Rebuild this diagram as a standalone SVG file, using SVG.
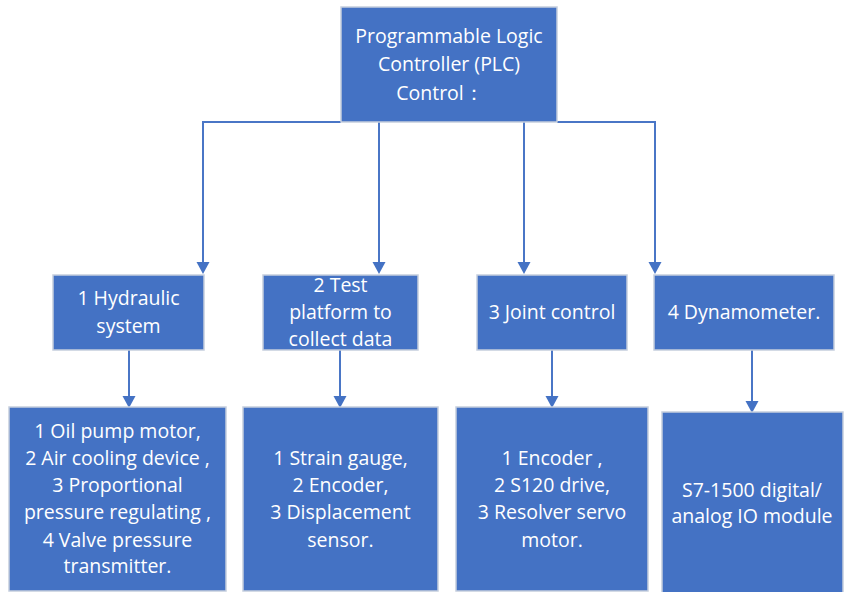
<svg xmlns="http://www.w3.org/2000/svg" width="844" height="592" viewBox="0 0 844 592">
<defs>
<style>
.box{fill:#4472C4;stroke:#C5CEDD;stroke-width:1.5}
.t{fill:#ffffff;font-family:"Open Sans","Noto Sans","Liberation Sans",sans-serif;font-size:19.5px;text-anchor:middle}
.c{fill:none;stroke:#4A76C6;stroke-width:2}
.ah{fill:#4472C4}
</style>
</defs>
<rect width="844" height="592" fill="#ffffff"/>
<g id="connectors">
<path class="c" d="M341,122 H203 V262"/>
<path class="c" d="M379,122 V262"/>
<path class="c" d="M524,122 V262"/>
<path class="c" d="M557,122 H655 V262"/>
<path class="c" d="M129,350 V396"/>
<path class="c" d="M340,350 V396"/>
<path class="c" d="M552,350 V396"/>
<path class="c" d="M752,350 V401"/>
<path class="ah" d="M196.5,262 L209.5,262 L203,274 Z"/>
<path class="ah" d="M372.5,262 L385.5,262 L379,274 Z"/>
<path class="ah" d="M517.5,262 L530.5,262 L524,274 Z"/>
<path class="ah" d="M648.5,262 L661.5,262 L655,274 Z"/>
<path class="ah" d="M122.5,396 L135.5,396 L129,408 Z"/>
<path class="ah" d="M333.5,396 L346.5,396 L340,408 Z"/>
<path class="ah" d="M545.5,396 L558.5,396 L552,408 Z"/>
<path class="ah" d="M745.5,401 L758.5,401 L752,413 Z"/>
</g>
<g id="plc">
<rect class="box" x="341" y="7" width="216" height="115"/>
<text class="t" x="449" y="43">Programmable Logic</text>
<text class="t" x="449" y="71">Controller (PLC)</text>
<text class="t" x="440" y="100">Control：</text>
</g>
<g id="hydraulic">
<rect class="box" x="53" y="275" width="151" height="75"/>
<text class="t" x="128.5" y="305">1 Hydraulic</text>
<text class="t" x="128.5" y="333">system</text>
</g>
<g id="test">
<rect class="box" x="263" y="275" width="155" height="75"/>
<text class="t" x="340.5" y="292">2 Test</text>
<text class="t" x="340.5" y="319">platform to</text>
<text class="t" x="340.5" y="346">collect data</text>
</g>
<g id="joint">
<rect class="box" x="477" y="275" width="150" height="75"/>
<text class="t" x="552" y="319">3 Joint control</text>
</g>
<g id="dyn">
<rect class="box" x="654" y="275" width="180" height="75"/>
<text class="t" x="744" y="319">4 Dynamometer.</text>
</g>
<g id="hyd-items">
<rect class="box" x="9" y="407" width="217" height="184"/>
<text class="t" x="117.5" y="438">1 Oil pump motor,</text>
<text class="t" x="117.5" y="465">2 Air cooling device ,</text>
<text class="t" x="117.5" y="492">3 Proportional</text>
<text class="t" x="117.5" y="519">pressure regulating ,</text>
<text class="t" x="117.5" y="547">4 Valve pressure</text>
<text class="t" x="117.5" y="573">transmitter.</text>
</g>
<g id="test-items">
<rect class="box" x="243" y="407" width="195" height="184"/>
<text class="t" x="340.5" y="465">1 Strain gauge,</text>
<text class="t" x="340.5" y="492">2 Encoder,</text>
<text class="t" x="340.5" y="519">3 Displacement</text>
<text class="t" x="340.5" y="547">sensor.</text>
</g>
<g id="joint-items">
<rect class="box" x="456" y="407" width="192" height="184"/>
<text class="t" x="552" y="465">1 Encoder ,</text>
<text class="t" x="552" y="492">2 S120 drive,</text>
<text class="t" x="552" y="519">3 Resolver servo</text>
<text class="t" x="552" y="547">motor.</text>
</g>
<g id="dyn-items">
<rect class="box" x="662" y="412" width="181" height="182"/>
<text class="t" x="752" y="497">S7-1500 digital/</text>
<text class="t" x="752" y="523">analog IO module</text>
</g>
</svg>
